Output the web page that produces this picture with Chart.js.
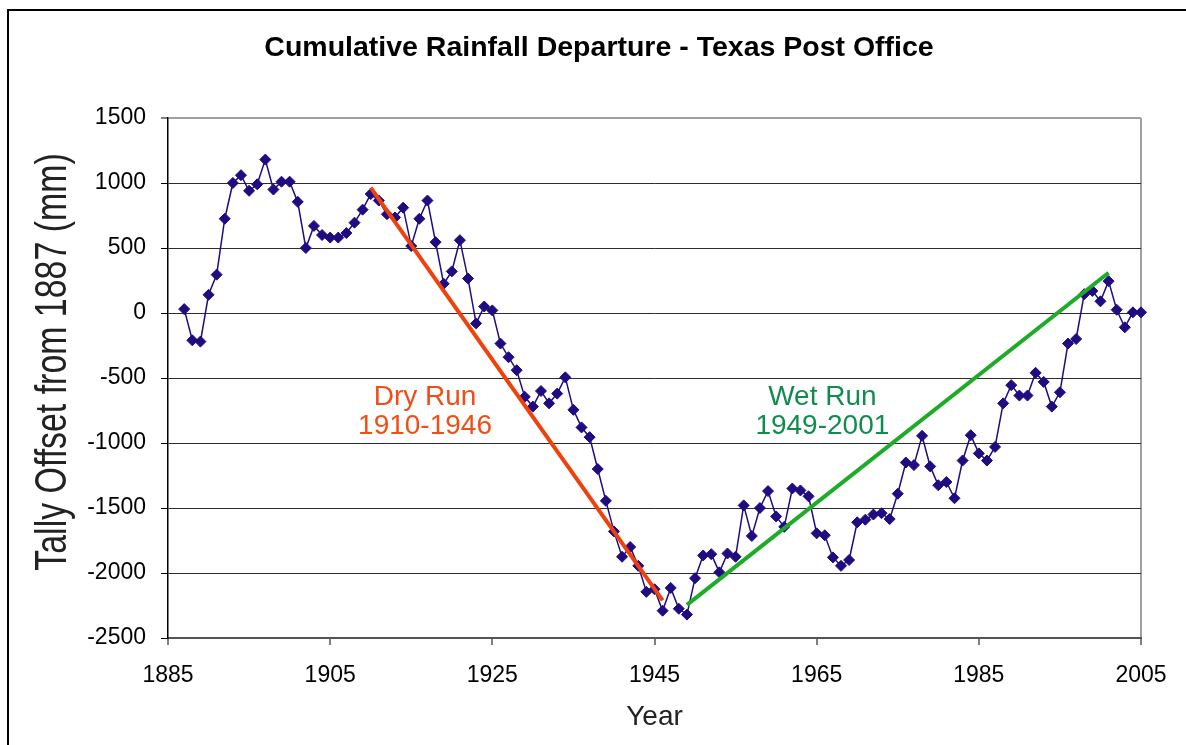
<!DOCTYPE html>
<html>
<head>
<meta charset="utf-8">
<title>Cumulative Rainfall Departure - Texas Post Office</title>
<script src="https://cdn.jsdelivr.net/npm/chart.js@4.4.1/dist/chart.umd.min.js"></script>
<style>
  html, body { margin: 0; padding: 0; background: #fff; }
  #wrap { width: 1186px; height: 745px; position: relative; }
</style>
</head>
<body>
<div id="wrap"><canvas id="rainChart" width="1186" height="745"></canvas></div>
<script>
// yearly tally
const years = [
  1887, 1888, 1889, 1890, 1891, 1892, 1893, 1894, 1895, 1896,
  1897, 1898, 1899, 1900, 1901, 1902, 1903, 1904, 1905, 1906,
  1907, 1908, 1909, 1910, 1911, 1912, 1913, 1914, 1915, 1916,
  1917, 1918, 1919, 1920, 1921, 1922, 1923, 1924, 1925, 1926,
  1927, 1928, 1929, 1930, 1931, 1932, 1933, 1934, 1935, 1936,
  1937, 1938, 1939, 1940, 1941, 1942, 1943, 1944, 1945, 1946,
  1947, 1948, 1949, 1950, 1951, 1952, 1953, 1954, 1955, 1956,
  1957, 1958, 1959, 1960, 1961, 1962, 1963, 1964, 1965, 1966,
  1967, 1968, 1969, 1970, 1971, 1972, 1973, 1974, 1975, 1976,
  1977, 1978, 1979, 1980, 1981, 1982, 1983, 1984, 1985, 1986,
  1987, 1988, 1989, 1990, 1991, 1992, 1993, 1994, 1995, 1996,
  1997, 1998, 1999, 2000, 2001, 2002, 2003, 2004, 2005
];
const offsetMm = [
  30, -210, -220, 140, 295, 725, 1000, 1060, 940, 990,
  1180, 950, 1010, 1010, 855, 500, 670, 600, 580, 580,
  615, 695, 795, 915, 865, 760, 735, 810, 515, 725,
  865, 545, 225, 320, 560, 265, -80, 50, 20, -235,
  -340, -440, -645, -720, -600, -695, -620, -495, -745, -880,
  -955, -1200, -1445, -1680, -1875, -1800, -1945, -2145, -2125, -2290,
  -2115, -2275, -2320, -2040, -1865, -1855, -1995, -1850, -1875, -1480,
  -1715, -1500, -1370, -1565, -1645, -1350, -1365, -1410, -1695, -1710,
  -1880, -1945, -1900, -1610, -1590, -1550, -1540, -1585, -1390, -1150,
  -1170, -945, -1180, -1325, -1300, -1425, -1135, -940, -1080, -1135,
  -1030, -695, -555, -635, -635, -460, -530, -720, -610, -235,
  -200, 145, 170, 90, 245, 25, -110, 5, 5
];

// hand drawn trend lines
const dryRunYears = [1910, 1946];
const dryRunValues = [965, -2210];
const wetRunYears = [1949, 2001];
const wetRunValues = [-2245, 310];

// axis ticks
const xTicks = [1885, 1905, 1925, 1945, 1965, 1985, 2005];
const yTicks = [1500, 1000, 500, 0, -500, -1000, -1500, -2000, -2500];

const chartTitle = 'Cumulative Rainfall Departure - Texas Post Office';
const yTitle = 'Tally Offset from 1887 (mm)';

const runLabels = [
  { lines: ['Dry Run', '1910-1946'], year: 1916.7, value: -754, color: '#f04e16' },
  { lines: ['Wet Run', '1949-2001'], year: 1965.7, value: -754, color: '#118c4e' }
];

const FONT = "'Liberation Sans', Arial, sans-serif";

function toPoints(xs, ys) {
  return xs.map((x, i) => ({ x: x, y: ys[i] }));
}

// outer frame + title + narrow y title, like the pasted excel chart
const framePlugin = {
  id: 'frame',
  beforeDraw(chart) {
    const ctx = chart.ctx;
    ctx.save();
    ctx.fillStyle = '#fff';
    ctx.fillRect(0, 0, chart.width, chart.height);
    ctx.strokeStyle = '#000';
    ctx.lineWidth = 2;
    ctx.beginPath();
    ctx.moveTo(chart.width, 10);
    ctx.lineTo(8, 10);
    ctx.lineTo(8, chart.height);
    ctx.stroke();

    ctx.fillStyle = '#000';
    ctx.font = 'bold 28.5px ' + FONT;
    ctx.textAlign = 'center';
    ctx.textBaseline = 'middle';
    ctx.fillText(chartTitle, 599, 48);

    // y title: tall condensed lettering
    ctx.translate(54, 362);
    ctx.rotate(-Math.PI / 2);
    ctx.scale(0.77, 1);
    ctx.fillStyle = '#222';
    ctx.font = '44px ' + FONT;
    ctx.fillText(yTitle, 0, 0);
    ctx.restore();
  }
};

const runLabelPlugin = {
  id: 'runLabels',
  afterDatasetsDraw(chart) {
    const ctx = chart.ctx;
    const xs = chart.scales.x;
    const ys = chart.scales.y;
    ctx.save();
    ctx.font = '28px ' + FONT;
    ctx.textAlign = 'center';
    ctx.textBaseline = 'middle';
    runLabels.forEach(lbl => {
      const px = xs.getPixelForValue(lbl.year);
      const py = ys.getPixelForValue(lbl.value);
      ctx.fillStyle = lbl.color;
      ctx.fillText(lbl.lines[0], px, py - 14);
      ctx.fillText(lbl.lines[1], px, py + 15);
    });
    ctx.restore();
  }
};

const config = {
  type: 'line',
  data: {
    datasets: [
      {
        label: 'Tally',
        data: toPoints(years, offsetMm),
        borderColor: '#1e0c80',
        backgroundColor: '#1e0c80',
        borderWidth: 1.5,
        pointStyle: 'rectRot',
        pointRadius: 5.5,
        pointBorderWidth: 1,
        clip: false,
        order: 3
      },
      {
        label: 'Dry Run',
        data: toPoints(dryRunYears, dryRunValues),
        borderColor: '#f0400c',
        borderWidth: 4,
        pointRadius: 0,
        order: 1
      },
      {
        label: 'Wet Run',
        data: toPoints(wetRunYears, wetRunValues),
        borderColor: '#1eab28',
        borderWidth: 4,
        pointRadius: 0,
        order: 2
      }
    ]
  },
  options: {
    responsive: false,
    animation: false,
    layout: { padding: { left: 0, right: 45, top: 118, bottom: 0 } },
    plugins: {
      legend: { display: false },
      tooltip: { enabled: false },
      title: { display: false }
    },
    scales: {
      x: {
        type: 'linear',
        min: 1885,
        max: 2005,
        afterFit(scale) { scale.height = 107; },
        afterBuildTicks(scale) { scale.ticks = xTicks.map(v => ({ value: v })); },
        ticks: {
          color: '#000',
          font: { family: FONT, size: 23 },
          padding: 17,
          maxRotation: 0,
          callback: v => String(v)
        },
        grid: {
          color: c => (c.tick && c.tick.value === 2005 ? '#a0a0a0' : 'rgba(0,0,0,0)'),
          lineWidth: 2,
          tickColor: '#000',
          tickWidth: 1,
          tickLength: 7
        },
        border: { display: true, color: '#555', width: 2 },
        title: {
          display: true,
          text: 'Year',
          color: '#222',
          font: { family: FONT, size: 28, lineHeight: 1.2 },
          padding: { top: 0, bottom: 11 }
        }
      },
      y: {
        min: -2500,
        max: 1500,
        afterFit(scale) { scale.width = 168; },
        afterBuildTicks(scale) { scale.ticks = yTicks.map(v => ({ value: v })); },
        ticks: {
          color: '#000',
          font: { family: FONT, size: 23 },
          padding: 15,
          callback: v => String(v)
        },
        grid: {
          color: c => (c.tick && c.tick.value === 1500 ? '#a0a0a0' : '#2c2c2c'),
          lineWidth: c => (c.tick && c.tick.value === 1500 ? 2 : 1),
          tickColor: '#000',
          tickWidth: 1,
          tickLength: 7
        },
        border: { display: true, color: '#000', width: 1.5 },
        title: { display: false }
      }
    }
  },
  plugins: [framePlugin, runLabelPlugin]
};

const rainChart = new Chart(document.getElementById('rainChart'), config);
</script>
</body>
</html>
